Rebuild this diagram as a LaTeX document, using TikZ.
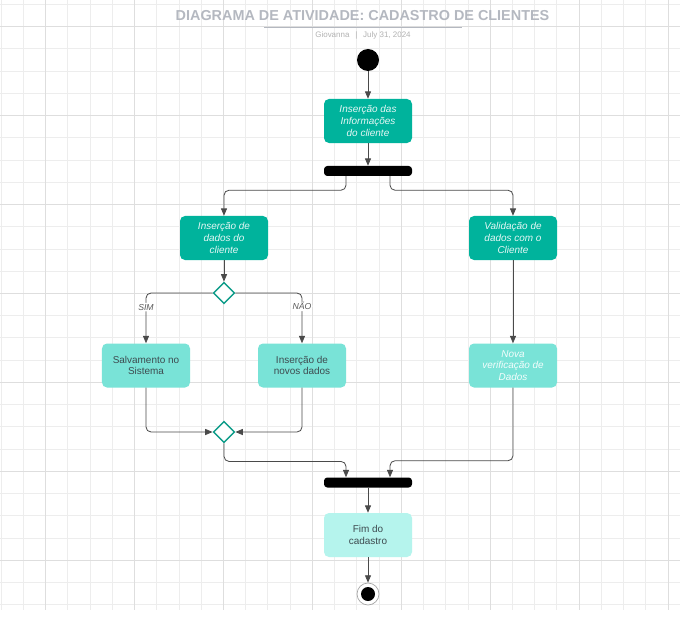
\documentclass[tikz,border=0pt]{standalone}
\usepackage{fontspec}
\setmainfont{Liberation Sans}
\usetikzlibrary{shapes.geometric,arrows.meta}
\definecolor{tealforte}{HTML}{00B39C}
\definecolor{tealclaro}{HTML}{79E3D7}
\definecolor{tealpalido}{HTML}{B5F4ED}
\definecolor{losango}{HTML}{0E9C89}
\definecolor{titulo}{HTML}{B4B8C0}
\definecolor{linha}{HTML}{4A4A4A}
\definecolor{textoesc}{HTML}{3E4B50}

\begin{document}
\begin{tikzpicture}[x=0.03cm,y=-0.03cm,
  gradefina/.style={draw=black!7,line width=0.5pt},
  gradeforte/.style={draw=black!13,line width=0.6pt},
  atividade/.style={rectangle,rounded corners=0.15cm,minimum width=2.64cm,minimum height=1.32cm,align=center,inner sep=1pt},
  ativforte/.style={atividade,fill=tealforte,text=white!90!tealforte,font=\fontsize{8.5}{10}\selectfont\itshape},
  ativclaro/.style={atividade,fill=tealclaro,text=textoesc,font=\fontsize{8.5}{10}\selectfont},
  ativclaroit/.style={atividade,fill=tealclaro,text=white!92!tealclaro,font=\fontsize{8.5}{10}\selectfont\itshape},
  ativpalido/.style={atividade,fill=tealpalido,text=textoesc,font=\fontsize{8.5}{10}\selectfont},
  barra/.style={rectangle,fill=black,rounded corners=0.1cm,minimum width=2.64cm,minimum height=0.3cm,inner sep=0},
  decisao/.style={diamond,draw=losango,fill=white,line width=1.3pt,minimum width=0.64cm,minimum height=0.64cm,inner sep=0},
  inicio/.style={circle,fill=black,minimum size=0.66cm,inner sep=0},
  seta/.style={draw=linha,line width=0.7pt,-{Triangle[length=2.2mm,width=1.8mm]},rounded corners=0.15cm},
  rotulo/.style={fill=white,inner sep=1pt,text=black!65,font=\fontsize{7.4}{8}\selectfont\itshape}
]
\useasboundingbox (0,0) rectangle (680,624);
\fill[white] (0,0) rectangle (680,624);

% grade de fundo
\foreach \gx in {0,...,30} \draw[gradefina] ({1+22.23*\gx},0) -- ({1+22.23*\gx},610);
\foreach \gy in {0,...,27} \draw[gradefina] (0,{4.3+22.23*\gy}) -- (680,{4.3+22.23*\gy});
\foreach \gx in {0,...,7} \draw[gradeforte] ({45.5+88.92*\gx},0) -- ({45.5+88.92*\gx},610);
\foreach \gy in {0,...,6} \draw[gradeforte] (0,{26.5+88.92*\gy}) -- (680,{26.5+88.92*\gy});

% titulo
\node[text=titulo,font=\fontsize{12.3}{14}\selectfont\bfseries] (titulo) at (362.5,16) {DIAGRAMA DE ATIVIDADE: CADASTRO DE CLIENTES};
\draw[titulo,line width=0.8pt] (264,27) -- (462,27);
\node[text=black!30,font=\fontsize{6.8}{8}\selectfont] (autor) at (363,35) {Giovanna\hspace{5pt}|\hspace{5pt}July 31, 2024};

% nos
\node[inicio] (ini) at (368,60) {};
\node[ativforte] (n1) at (368,121) {Inserção das\\Informações\\do cliente};
\node[barra] (bar1) at (368,171) {};
\node[ativforte] (n2) at (224,238) {Inserção de\\dados do\\cliente};
\node[ativforte] (n3) at (513,238) {Validação de\\dados com o\\Cliente};
\node[decisao] (d1) at (224,293) {};
\node[ativclaro] (n4) at (146,365.5) {Salvamento no\\Sistema};
\node[ativclaro] (n5) at (302,365.5) {Inserção de\\novos dados};
\node[ativclaroit] (n6) at (513,365.5) {Nova\\verificação de\\Dados};
\node[decisao] (d2) at (224,432) {};
\node[barra] (bar2) at (368,482.5) {};
\node[ativpalido] (n7) at (368,535) {Fim do\\cadastro};
\node[circle,draw=black!35,fill=white,line width=0.6pt,minimum size=0.66cm,inner sep=0] (fim) at (368,594) {};
\node[circle,fill=black,minimum size=0.42cm,inner sep=0] (fimnucleo) at (fim) {};

% conexoes
\draw[seta] (ini) -- (n1);
\draw[seta] (n1) -- (bar1);
\draw[seta] ([xshift=-0.66cm]bar1.south) -- ++(0,14) -| (n2.north);
\draw[seta] ([xshift=0.66cm]bar1.south) -- ++(0,14) -| (n3.north);
\draw[seta] (n2) -- (d1);
\draw[seta] (d1.west) -| node[rotulo,pos=0.64]{SIM} (n4.north);
\draw[seta] (d1.east) -| node[rotulo,pos=0.63]{NÃO} (n5.north);
\draw[seta] (n3) -- (n6);
\draw[seta] (n4.south) |- (d2.west);
\draw[seta] (n5.south) |- (d2.east);
\draw[seta] (d2.south) -- ++(0,18) -| ([xshift=-0.66cm]bar2.north);
\draw[seta] (n6.south) -- ++(0,73) -| ([xshift=0.66cm]bar2.north);
\draw[seta] (bar2) -- (n7);
\draw[seta] (n7) -- (fim);
\end{tikzpicture}
\end{document}
